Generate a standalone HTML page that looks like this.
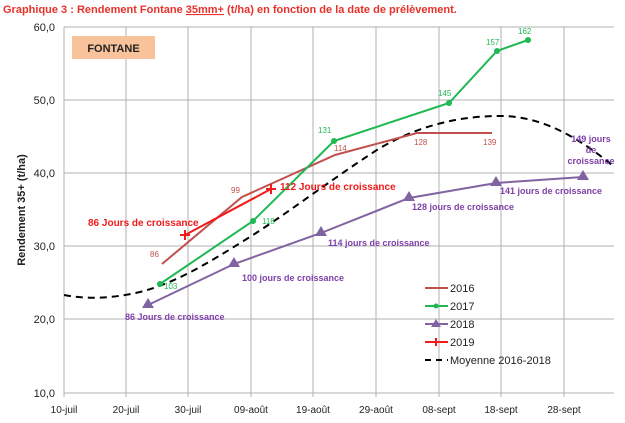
<!DOCTYPE html>
<html><head><meta charset="utf-8"><style>
body{margin:0;background:#fff;width:625px;height:418px;overflow:hidden}
text{font-family:"Liberation Sans",sans-serif}
.c{font-family:"Liberation Sans",sans-serif;font-weight:bold;font-size:9px;fill:#7e3fa8}
</style></head><body>
<svg width="625" height="418" xmlns="http://www.w3.org/2000/svg">
<text x="3" y="13" font-size="11" font-weight="bold" fill="#e8312a">Graphique 3 : Rendement Fontane <tspan text-decoration="underline">35mm+</tspan> (t/ha) en fonction de la date de prélèvement.</text>
<g stroke="#b0b0b0" stroke-width="1">
<line x1="64" y1="27" x2="614" y2="27"/><line x1="64" y1="100" x2="614" y2="100"/><line x1="64" y1="173" x2="614" y2="173"/><line x1="64" y1="246" x2="614" y2="246"/><line x1="64" y1="319" x2="614" y2="319"/><line x1="64" y1="393" x2="614" y2="393"/>
<line x1="64" y1="27" x2="64" y2="397"/><line x1="126" y1="27" x2="126" y2="397"/><line x1="188" y1="27" x2="188" y2="397"/><line x1="251" y1="27" x2="251" y2="397"/><line x1="313" y1="27" x2="313" y2="397"/><line x1="376" y1="27" x2="376" y2="397"/><line x1="439" y1="27" x2="439" y2="397"/><line x1="501" y1="27" x2="501" y2="397"/><line x1="564" y1="27" x2="564" y2="397"/>
</g>
<g font-size="11" fill="#222" text-anchor="end">
<text x="55" y="31">60,0</text><text x="55" y="104">50,0</text><text x="55" y="177">40,0</text><text x="55" y="250">30,0</text><text x="55" y="323">20,0</text><text x="55" y="397">10,0</text>
</g>
<g font-size="10" fill="#222" text-anchor="middle">
<text x="64" y="413">10-juil</text><text x="126" y="413">20-juil</text><text x="188" y="413">30-juil</text><text x="251" y="413">09-août</text><text x="313" y="413">19-août</text><text x="376" y="413">29-août</text><text x="439" y="413">08-sept</text><text x="501" y="413">18-sept</text><text x="564" y="413">28-sept</text>
</g>
<text transform="translate(25,210) rotate(-90)" font-size="11" font-weight="bold" fill="#222" text-anchor="middle">Rendement 35+ (t/ha)</text>
<rect x="72" y="36" width="83" height="23" fill="#f8c39a"/>
<text x="113.5" y="52" font-size="11" font-weight="bold" fill="#222" text-anchor="middle">FONTANE</text>
<path fill="none" stroke="#000" stroke-width="2" stroke-dasharray="7,5" d="M64,295 C85,299 110,299 140,292 C175,283 205,265 245,240 C290,212 330,180 380,148 C420,125 460,116 500,116 C540,116 575,135 612,165"/>
<polyline fill="none" stroke="#c0504d" stroke-width="2" points="162,264 242,197 335,155 417,133 492,133"/>
<polyline fill="none" stroke="#8064a2" stroke-width="2" points="148,305 234,264 321,233 409,198 496,183 583,177"/>
<g fill="#8064a2"><path d="M148,298l6,10h-12z"/><path d="M234,257l6,10h-12z"/><path d="M321,226l6,10h-12z"/><path d="M409,191l6,10h-12z"/><path d="M496,176l6,10h-12z"/><path d="M583,170l6,10h-12z"/></g>
<polyline fill="none" stroke="#1fb853" stroke-width="2" points="160,284 253,221 334,141 449,103 497,51 528,40"/>
<g fill="#1fb853"><circle cx="160" cy="284" r="3"/><circle cx="253" cy="221" r="3"/><circle cx="334" cy="141" r="3"/><circle cx="449" cy="103" r="3"/><circle cx="497" cy="51" r="3"/><circle cx="528" cy="40" r="3"/></g>
<polyline fill="none" stroke="#f21a1a" stroke-width="2" points="185,235 271,189"/>
<g stroke="#f21a1a" stroke-width="2"><line x1="180" y1="235" x2="190" y2="235"/><line x1="185" y1="230" x2="185" y2="240"/><line x1="266" y1="189" x2="276" y2="189"/><line x1="271" y1="184" x2="271" y2="194"/></g>
<g font-size="8" fill="#c0504d"><text x="150" y="257">86</text><text x="231" y="193">99</text><text x="334" y="151">114</text><text x="414" y="145">128</text><text x="483" y="145">139</text></g>
<g font-size="8" fill="#1fb853"><text x="164" y="289">103</text><text x="262" y="224">118</text><text x="318" y="133">131</text><text x="438" y="96">145</text><text x="486" y="45">157</text><text x="518" y="34">162</text></g>
<g font-size="10" font-weight="bold" fill="#f21a1a"><text x="88" y="226">86 Jours de croissance</text><text x="280" y="190">112 Jours de croissance</text></g>
<text class="c" x="125" y="320">86 Jours de croissance</text>
<text class="c" x="242" y="281">100 jours de croissance</text>
<text class="c" x="328" y="246">114 jours de croissance</text>
<text class="c" x="412" y="210">128 jours de croissance</text>
<text class="c" x="500" y="194">141 jours de croissance</text>
<text class="c" x="591" y="142" text-anchor="middle">149 jours</text><text class="c" x="591" y="153" text-anchor="middle">de</text><text class="c" x="591" y="164" text-anchor="middle">croissance</text>
<g font-size="11" fill="#222">
<line x1="425" y1="288" x2="448" y2="288" stroke="#c0504d" stroke-width="2"/><text x="450" y="292">2016</text>
<line x1="425" y1="306" x2="448" y2="306" stroke="#1fb853" stroke-width="2"/><circle cx="436" cy="306" r="2.5" fill="#1fb853"/><text x="450" y="310">2017</text>
<line x1="425" y1="324" x2="448" y2="324" stroke="#8064a2" stroke-width="2"/><path d="M436,319l5,8h-10z" fill="#8064a2"/><text x="450" y="328">2018</text>
<line x1="425" y1="342" x2="448" y2="342" stroke="#f21a1a" stroke-width="2"/><line x1="436" y1="338" x2="436" y2="346" stroke="#f21a1a" stroke-width="2"/><text x="450" y="346">2019</text>
<line x1="425" y1="360" x2="448" y2="360" stroke="#000" stroke-width="2" stroke-dasharray="6,5"/><text x="450" y="364">Moyenne 2016-2018</text>
</g>
</svg>
</body></html>
